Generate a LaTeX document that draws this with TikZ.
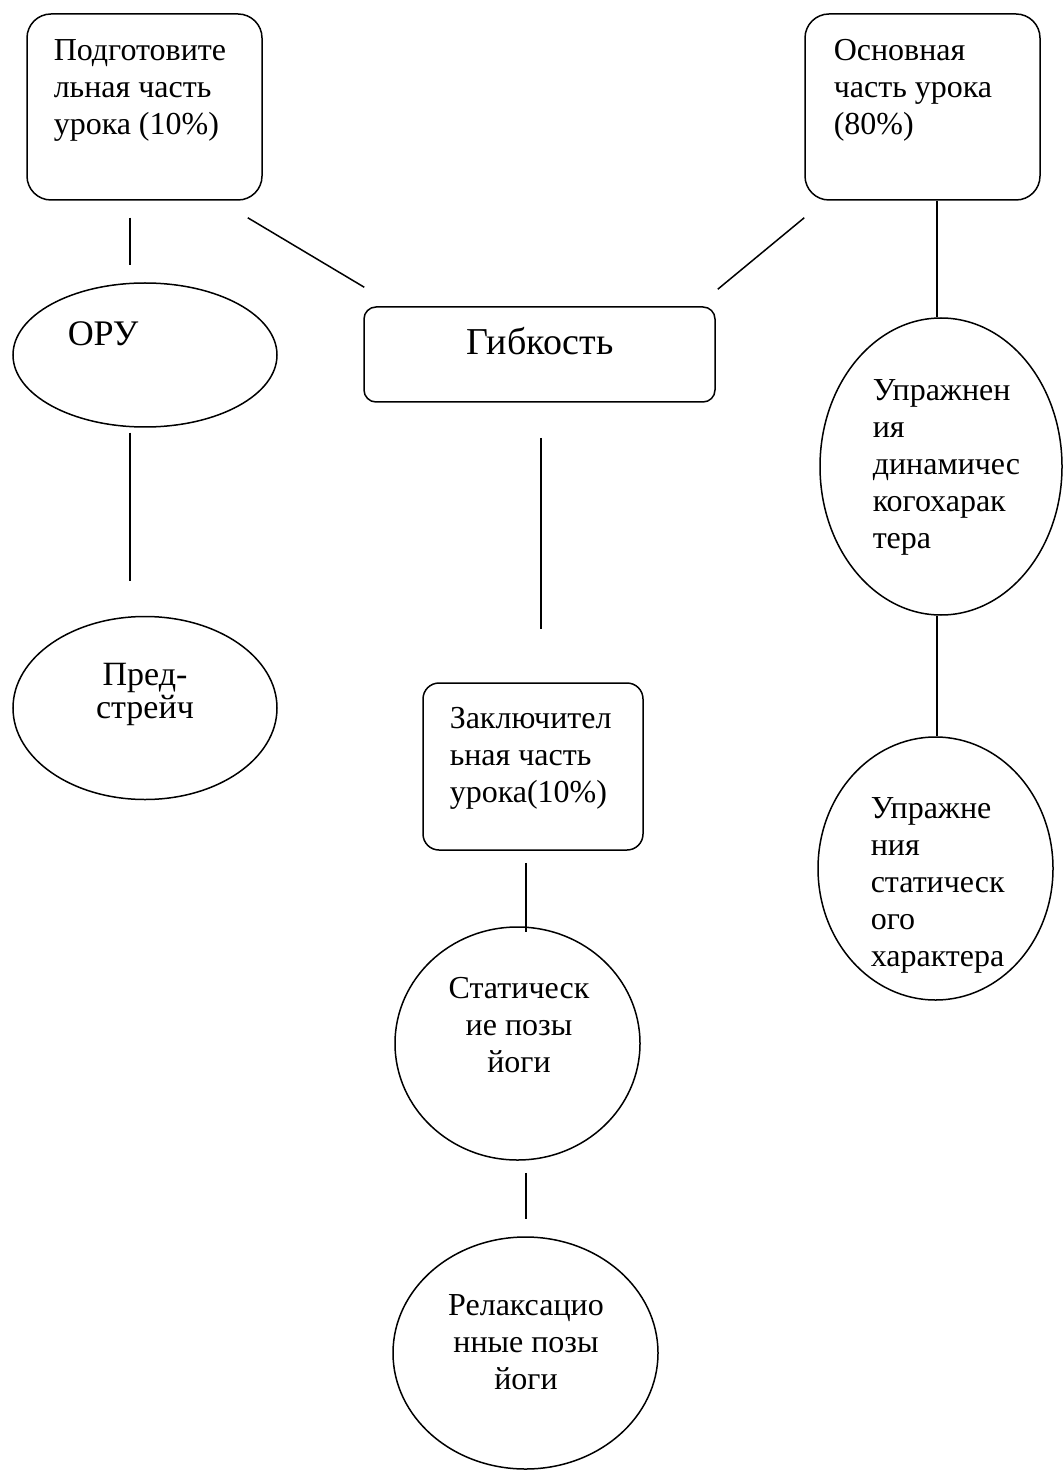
\documentclass[tikz,border=0pt]{standalone}
\usepackage{fontspec}
\setmainfont{Liberation Serif}
\usetikzlibrary{shapes.geometric}

\newcommand\firstline{\rule{0pt}{15pt}}
\newcommand\tightlines{\lineskiplimit -20pt\relax}

\begin{document}
\begin{tikzpicture}[%
  x = 0.5pt, y = -0.5pt,
  line width = 0.75pt,
  box/.style = {rectangle, draw, rounded corners = 12pt, inner sep = 0pt},
  oval/.style = {ellipse, draw, inner sep = 0pt},
  txt/.style = {inner sep = 0pt, anchor = north west, yshift = 15pt, align = left,
    font = {\fontsize{16}{18.5}\selectfont\tightlines}},
  ctxt/.style = {txt, anchor = north, align = center}]
  \useasboundingbox (0, 0) rectangle (1062, 1470);

  % shapes
  \node[box, minimum width = 117.5pt, minimum height = 93pt] (prep) at (144.5, 107) {};
  \node[box, minimum width = 117.5pt, minimum height = 93pt] (main) at (922.5, 107) {};
  \node[box, rounded corners = 6pt, minimum width = 175.5pt, minimum height = 47.5pt] (flex) at (539.5, 354.5) {};
  \node[box, rounded corners = 8pt, minimum width = 110pt, minimum height = 83.5pt] (final) at (533, 766.5) {};
  \node[oval, minimum width = 132pt, minimum height = 72pt] (oru) at (145, 355) {};
  \node[oval, minimum width = 132pt, minimum height = 91.5pt] (prestretch) at (145, 708) {};
  \node[oval, minimum width = 122.5pt, minimum height = 116.5pt] (static) at (517.5, 1043.5) {};
  \node[oval, minimum width = 132.5pt, minimum height = 116pt] (relax) at (525.5, 1353) {};
  \node[oval, minimum width = 121pt, minimum height = 148.5pt] (dynamic) at (941, 466.5) {};
  \node[oval, minimum width = 117.5pt, minimum height = 131.5pt] (staticex) at (935.5, 868.5) {};

  % texts
  \node[txt] (prep-t) at (53, 60) {\firstline Подготовите\\льная часть\\урока (10\%)};
  \node[txt] (main-t) at (833, 60) {\firstline Основная\\часть урока\\(80\%)};
  \node[inner sep = 0pt, anchor = base, font = \fontsize{19}{22}\selectfont] (flex-t) at (540, 355) {Гибкость};
  \node[inner sep = 0pt, anchor = base west, font = \fontsize{18}{21}\selectfont] (oru-t) at (67, 346) {ОРУ};
  \node[ctxt, font = {\fontsize{17}{16.5}\selectfont\tightlines}] (prestretch-t) at (145, 685) {\firstline Пред-\\стрейч};
  \node[txt] (final-t) at (449, 728) {\firstline Заключител\\ьная часть\\урока(10\%)};
  \node[ctxt] (static-t) at (519, 998) {\firstline Статическ\\ие позы\\йоги};
  \node[ctxt] (relax-t) at (526, 1315) {\firstline Релаксацио\\нные позы\\йоги};
  \node[txt] (dynamic-t) at (872, 400) {\firstline Упражнен\\ия\\динамичес\\когохарак\\тера};
  \node[txt] (staticex-t) at (870, 818) {\firstline Упражне\\ния\\статическ\\ого\\характера};

  % connectors
  \draw[shorten <= 8.5pt, shorten >= 8.5pt] ([shift = {(-14.5, 0)}]prep.south) -- ([shift = {(-15, 0)}]oru.north);
  \draw[shorten <= 2.5pt, shorten >= 17.5pt] ([shift = {(-15, 0)}]oru.south) -- ([shift = {(-15, 0)}]prestretch.north);
  \draw ([shift = {(-15, 17)}]prep.south east) -- ([shift = {(1, -19)}]flex.north west);
  \draw ([shift = {(0, 17)}]main.south west) -- ([shift = {(2, -17)}]flex.north east);
  \draw ([shift = {(14.5, 0)}]main.south) -- ([shift = {(-4, 0)}]dynamic.north);
  \draw[shorten <= 17.5pt, shorten >= 26.5pt] ([shift = {(1.5, 0)}]flex.south) -- ([shift = {(8, 0)}]final.north);
  \draw[shorten <= 6pt, shorten >= -3pt] ([shift = {(-7, 0)}]final.south) -- ([shift = {(8.5, 0)}]static.north);
  \draw[shorten <= 6pt, shorten >= 8.5pt] ([shift = {(8.5, 0)}]static.south) -- ([shift = {(0.5, 0)}]relax.north);
  \draw ([shift = {(-4, 0)}]dynamic.south) -- ([shift = {(1.5, 0)}]staticex.north);
\end{tikzpicture}
\end{document}
